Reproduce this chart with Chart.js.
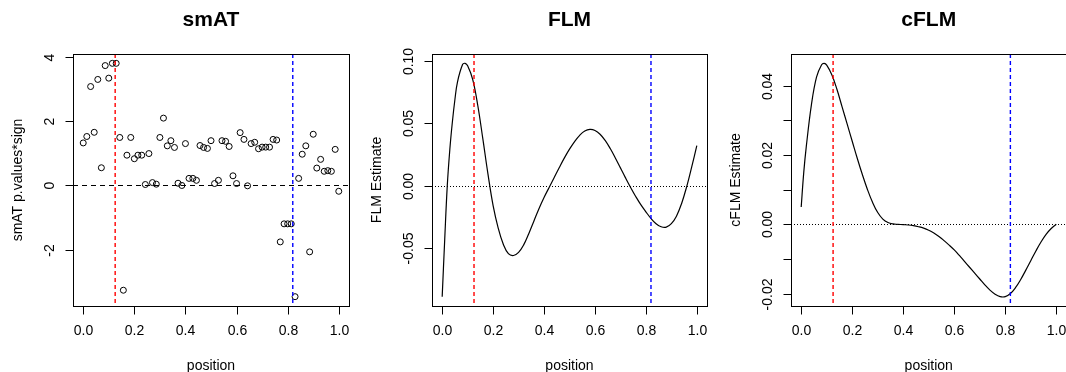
<!DOCTYPE html>
<html>
<head>
<meta charset="utf-8">
<script src="https://cdn.jsdelivr.net/npm/chart.js@4.4.0/dist/chart.umd.min.js"></script>
<style>
  html, body { margin: 0; padding: 0; background: #fff; width: 1066px; height: 372px; overflow: hidden; }
  .panel { position: absolute; top: 0; height: 372px; }
  canvas { display: block; }
</style>
</head>
<body>
<div class="panel" style="left:0px;width:356px"><canvas id="smat" width="356" height="372"></canvas></div>
<div class="panel" style="left:356px;width:356px"><canvas id="flm" width="356" height="372"></canvas></div>
<div class="panel" style="left:712px;width:362px"><canvas id="cflm" width="362" height="372"></canvas></div>
<script>
// ---- shared axis settings ----
const xTicks = [0, 0.2, 0.4, 0.6, 0.8, 1.0];
const xTickLabels = ['0.0', '0.2', '0.4', '0.6', '0.8', '1.0'];
const redLinePos = 0.125;
const blueLinePos = 0.82;

// ---- smAT: signed p-values by position ----
const smatPos = [0.000, 0.014, 0.029, 0.043, 0.057, 0.071, 0.086, 0.100, 0.114, 0.129,
  0.143, 0.157, 0.171, 0.186, 0.200, 0.214, 0.229, 0.243, 0.257, 0.271,
  0.286, 0.300, 0.314, 0.329, 0.343, 0.357, 0.371, 0.386, 0.400, 0.414,
  0.429, 0.443, 0.457, 0.471, 0.486, 0.500, 0.514, 0.529, 0.543, 0.557,
  0.571, 0.586, 0.600, 0.614, 0.629, 0.643, 0.657, 0.671, 0.686, 0.700,
  0.714, 0.729, 0.743, 0.757, 0.771, 0.786, 0.800, 0.814, 0.829, 0.843,
  0.857, 0.871, 0.886, 0.900, 0.914, 0.929, 0.943, 0.957, 0.971, 0.986, 1.000];
const smatVal = [1.32, 1.52, 3.07, 1.65, 3.29, 0.55, 3.72, 3.33, 3.79, 3.79,
  1.49, -3.25, 0.94, 1.49, 0.83, 0.94, 0.94, 0.03, 0.99, 0.09,
  0.04, 1.49, 2.09, 1.23, 1.39, 1.18, 0.07, 0.00, 1.30, 0.22,
  0.22, 0.16, 1.24, 1.18, 1.15, 1.39, 0.06, 0.16, 1.39, 1.37,
  1.21, 0.30, 0.06, 1.64, 1.43, -0.01, 1.30, 1.34, 1.14, 1.19,
  1.19, 1.19, 1.43, 1.41, -1.75, -1.19, -1.19, -1.19, -3.45, 0.22,
  0.97, 1.23, -2.06, 1.59, 0.54, 0.81, 0.44, 0.46, 0.44, 1.12, -0.18];
const smatYTicks = [-2, 0, 2, 4];
const smatYTickLabels = ['-2', '0', '2', '4'];

// ---- FLM estimate curve ----
const flmPos = [0, 0.01, 0.02, 0.03, 0.04, 0.05, 0.06, 0.08, 0.09, 0.10, 0.12, 0.14, 0.16, 0.18, 0.20,
  0.22, 0.24, 0.26, 0.28, 0.30, 0.32, 0.34, 0.36, 0.38, 0.40, 0.42, 0.44, 0.46, 0.48, 0.50,
  0.52, 0.54, 0.56, 0.58, 0.60, 0.62, 0.64, 0.66, 0.68, 0.70, 0.72, 0.74, 0.76, 0.78, 0.80,
  0.82, 0.84, 0.86, 0.88, 0.90, 0.92, 0.94, 0.96, 0.98, 1.00];
const flmVal = [-0.089, -0.043, 0.000, 0.029, 0.051, 0.069, 0.083, 0.097, 0.098, 0.096, 0.085, 0.064, 0.037, 0.009, -0.016,
  -0.034, -0.047, -0.0545, -0.0560, -0.0535, -0.0475, -0.0385, -0.0285, -0.0185, -0.0095, -0.0015, 0.0065, 0.0145, 0.0222, 0.0292,
  0.0353, 0.0403, 0.0437, 0.0450, 0.0442, 0.0412, 0.0362, 0.0297, 0.0222, 0.0142, 0.0062, -0.0015, -0.0087, -0.0153, -0.0210,
  -0.0263, -0.0305, -0.0330, -0.0333, -0.0305, -0.0245, -0.0145, -0.0010, 0.0150, 0.032];
const flmYTicks = [-0.05, 0, 0.05, 0.10];
const flmYTickLabels = ['-0.05', '0.00', '0.05', '0.10'];

// ---- cFLM estimate curve ----
const cflmPos = [0, 0.01, 0.02, 0.04, 0.06, 0.08, 0.09, 0.10, 0.12, 0.14, 0.16, 0.18, 0.20,
  0.22, 0.24, 0.26, 0.28, 0.30, 0.32, 0.34, 0.36, 0.38, 0.40, 0.42, 0.44, 0.46, 0.48, 0.50,
  0.52, 0.54, 0.56, 0.58, 0.60, 0.62, 0.64, 0.66, 0.68, 0.70, 0.72, 0.74, 0.76, 0.78, 0.80,
  0.82, 0.84, 0.86, 0.88, 0.90, 0.92, 0.94, 0.96, 0.98, 1.00];
const cflmVal = [0.0050, 0.0150, 0.0225, 0.0345, 0.0425, 0.0461, 0.0465, 0.0460, 0.0432, 0.0390, 0.0340, 0.0290, 0.0240,
  0.0190, 0.0143, 0.0100, 0.0063, 0.0034, 0.0015, 0.0005, 0.0001, 0.0000, -0.0001, -0.0002, -0.0004, -0.0007, -0.0011, -0.0017,
  -0.0025, -0.0035, -0.0047, -0.0060, -0.0074, -0.0090, -0.0107, -0.0124, -0.0141, -0.0158, -0.0175, -0.0190, -0.0202, -0.0209, -0.0209,
  -0.0200, -0.0183, -0.0160, -0.0133, -0.0105, -0.0077, -0.0051, -0.0029, -0.0012, 0.0000];
const cflmYTicks = [-0.02, -0.01, 0, 0.01, 0.02, 0.03, 0.04];
const cflmYTickLabels = ['-0.02', '', '0.00', '', '0.02', '', '0.04'];

const FONT = '"Liberation Sans", Arial, Helvetica, sans-serif';

// axis limits padded by 4% of the data range on each side
function padRange(vals) {
  const lo = Math.min(...vals), hi = Math.max(...vals), r = hi - lo;
  return { min: lo - 0.04 * r, max: hi + 0.04 * r };
}

// Base-graphics style frame: box, outward ticks, rotated y labels, titles, reference lines
const baseFrame = {
  id: 'baseFrame',
  afterDatasetsDraw(chart, args, o) {
    const { ctx, chartArea: a, scales: { x, y } } = chart;
    ctx.save();
    // horizontal zero line
    const y0 = Math.round(y.getPixelForValue(0)) + 0.5;
    ctx.lineWidth = 1;
    ctx.strokeStyle = '#000';
    ctx.setLineDash(o.zeroDash);
    ctx.beginPath(); ctx.moveTo(a.left, y0); ctx.lineTo(a.right, y0); ctx.stroke();
    // vertical marker lines
    const markers = [[redLinePos, '#ff0000'], [blueLinePos, '#0000ff']];
    for (const [v, c] of markers) {
      const px = x.getPixelForValue(v);
      ctx.beginPath();
      ctx.lineWidth = 1.4;
      ctx.strokeStyle = c;
      ctx.setLineDash([4, 3]);
      ctx.moveTo(px, a.top); ctx.lineTo(px, a.bottom);
      ctx.stroke();
    }
    ctx.restore();
  },
  afterDraw(chart, args, o) {
    const { ctx, chartArea: a, scales: { x, y } } = chart;
    ctx.save();
    ctx.strokeStyle = '#000';
    ctx.fillStyle = '#000';
    ctx.lineWidth = 1;
    ctx.setLineDash([]);
    const L = Math.round(a.left) + 0.5, R = Math.round(a.right) + 0.5;
    const T = Math.round(a.top) + 0.5, B = Math.round(a.bottom) + 0.5;
    ctx.strokeRect(L, T, R - L, B - T);

    // x axis ticks and labels
    ctx.font = '14px ' + FONT;
    ctx.textAlign = 'center';
    ctx.textBaseline = 'middle';
    xTicks.forEach((v, i) => {
      const px = Math.round(x.getPixelForValue(v)) + 0.5;
      ctx.beginPath(); ctx.moveTo(px, B); ctx.lineTo(px, B + 8); ctx.stroke();
      ctx.fillText(xTickLabels[i], px, a.bottom + 25);
    });
    // y axis ticks and rotated labels
    o.yTicks.forEach((v, i) => {
      const py = Math.round(y.getPixelForValue(v)) + 0.5;
      ctx.beginPath(); ctx.moveTo(L, py); ctx.lineTo(L - 8, py); ctx.stroke();
      if (o.yLabels[i]) {
        ctx.save();
        ctx.translate(a.left - 23, py);
        ctx.rotate(-Math.PI / 2);
        ctx.fillText(o.yLabels[i], 0, 0);
        ctx.restore();
      }
    });
    // axis titles
    ctx.fillText('position', (a.left + a.right) / 2, a.bottom + 60);
    ctx.save();
    ctx.translate(a.left - 55, (a.top + a.bottom) / 2);
    ctx.rotate(-Math.PI / 2);
    ctx.fillText(o.yTitle, 0, 0);
    ctx.restore();
    // main title
    ctx.font = 'bold 21px ' + FONT;
    ctx.fillText(o.title, (a.left + a.right) / 2, 20);
    ctx.restore();
  }
};

function makeChart(id, dataset, yVals, padding, frame) {
  const yr = padRange(yVals);
  return new Chart(document.getElementById(id), {
    type: dataset.type,
    data: { datasets: [dataset] },
    options: {
      responsive: false,
      animation: false,
      events: [],
      layout: { padding },
      scales: {
        x: { type: 'linear', display: false, min: -0.04, max: 1.04 },
        y: { type: 'linear', display: false, min: yr.min, max: yr.max }
      },
      plugins: { legend: { display: false }, tooltip: { enabled: false }, baseFrame: frame }
    },
    plugins: [baseFrame]
  });
}

// smAT scatter
makeChart('smat', {
  type: 'scatter',
  data: smatPos.map((p, i) => ({ x: p, y: smatVal[i] })),
  pointStyle: 'circle',
  pointRadius: 3,
  borderWidth: 1,
  borderColor: '#000',
  backgroundColor: 'rgba(0,0,0,0)'
}, smatVal, { left: 73, right: 7, top: 54, bottom: 66 },
{ title: 'smAT', yTitle: 'smAT p.values*sign', yTicks: smatYTicks, yLabels: smatYTickLabels, zeroDash: [5, 4] });

// FLM curve
makeChart('flm', {
  type: 'line',
  data: flmPos.map((p, i) => ({ x: p, y: flmVal[i] })),
  borderColor: '#000',
  borderWidth: 1.2,
  pointRadius: 0,
  fill: false,
  tension: 0.4
}, flmVal, { left: 76, right: 5, top: 54, bottom: 66 },
{ title: 'FLM', yTitle: 'FLM Estimate', yTicks: flmYTicks, yLabels: flmYTickLabels, zeroDash: [1, 2] });

// cFLM curve
makeChart('cflm', {
  type: 'line',
  data: cflmPos.map((p, i) => ({ x: p, y: cflmVal[i] })),
  borderColor: '#000',
  borderWidth: 1.2,
  pointRadius: 0,
  fill: false,
  tension: 0.4
}, cflmVal, { left: 79, right: 7.5, top: 54, bottom: 66 },
{ title: 'cFLM', yTitle: 'cFLM Estimate', yTicks: cflmYTicks, yLabels: cflmYTickLabels, zeroDash: [1, 2] });
</script>
</body>
</html>
